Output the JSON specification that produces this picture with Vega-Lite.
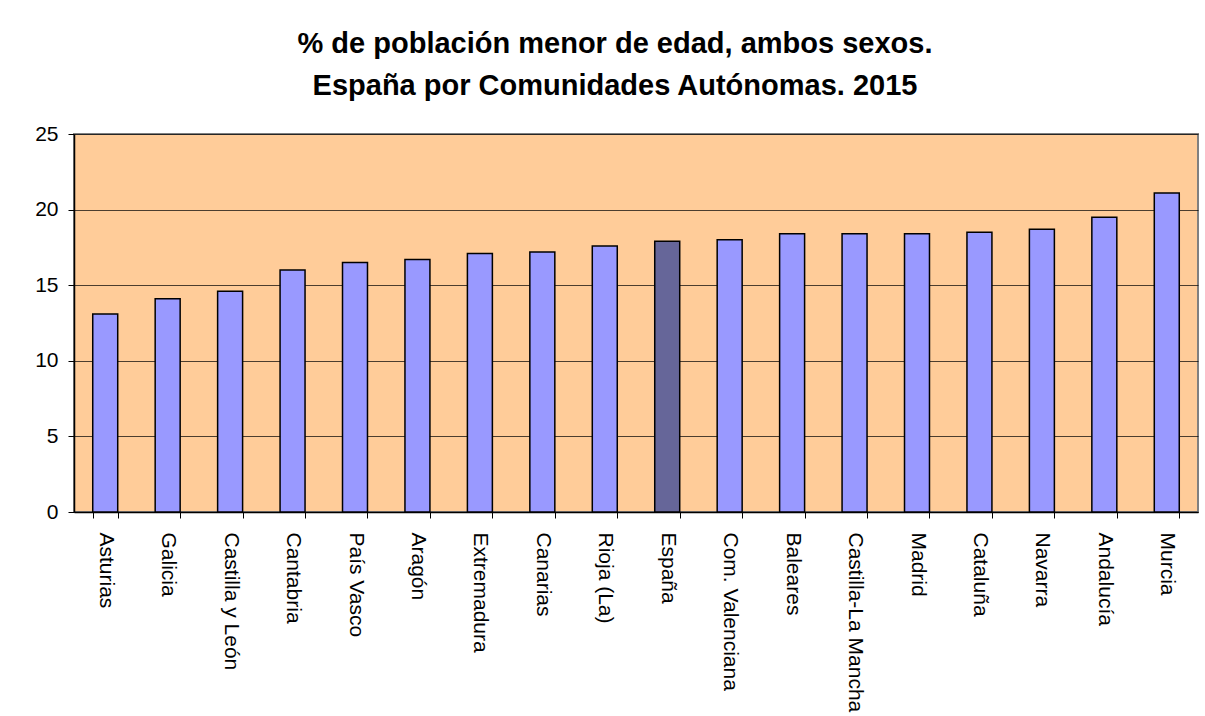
{
  "$schema": "https://vega.github.io/schema/vega-lite/v6.json",
  "width": 1124,
  "height": 378,
  "autosize": {"type": "none"},
  "padding": {"left": 74, "top": 134, "right": 7, "bottom": 204},
  "background": "#FFFFFF",
  "title": {
    "text": ["% de población menor de edad, ambos sexos.", "España por Comunidades Autónomas. 2015"],
    "font": "Liberation Sans",
    "fontSize": 29,
    "fontWeight": "bold",
    "color": "#000000",
    "anchor": "middle",
    "dx": -21,
    "lineHeight": 42,
    "offset": 22
  },
  "data": {
    "values": [
      {"region": "Asturias", "valor": 13.1, "tipo": "Comunidad"},
      {"region": "Galicia", "valor": 14.1, "tipo": "Comunidad"},
      {"region": "Castilla y León", "valor": 14.6, "tipo": "Comunidad"},
      {"region": "Cantabria", "valor": 16.0, "tipo": "Comunidad"},
      {"region": "País Vasco", "valor": 16.5, "tipo": "Comunidad"},
      {"region": "Aragón", "valor": 16.7, "tipo": "Comunidad"},
      {"region": "Extremadura", "valor": 17.1, "tipo": "Comunidad"},
      {"region": "Canarias", "valor": 17.2, "tipo": "Comunidad"},
      {"region": "Rioja (La)", "valor": 17.6, "tipo": "Comunidad"},
      {"region": "España", "valor": 17.9, "tipo": "España"},
      {"region": "Com. Valenciana", "valor": 18.0, "tipo": "Comunidad"},
      {"region": "Baleares", "valor": 18.4, "tipo": "Comunidad"},
      {"region": "Castilla-La Mancha", "valor": 18.4, "tipo": "Comunidad"},
      {"region": "Madrid", "valor": 18.4, "tipo": "Comunidad"},
      {"region": "Cataluña", "valor": 18.5, "tipo": "Comunidad"},
      {"region": "Navarra", "valor": 18.7, "tipo": "Comunidad"},
      {"region": "Andalucía", "valor": 19.5, "tipo": "Comunidad"},
      {"region": "Murcia", "valor": 21.1, "tipo": "Comunidad"}
    ]
  },
  "mark": {"type": "bar", "stroke": "#000000", "strokeWidth": 1.5},
  "encoding": {
    "x": {
      "field": "region",
      "type": "nominal",
      "sort": null,
      "scale": {"paddingInner": 0.6, "paddingOuter": 0.3},
      "axis": {
        "title": null,
        "labelAngle": 90,
        "labelAlign": "left",
        "labelBaseline": "middle",
        "labelFont": "Liberation Sans",
        "labelFontSize": 21,
        "labelColor": "#000000",
        "labelPadding": 14,
        "labelOverlap": false,
        "labelLimit": 0,
        "tickBand": "extent",
        "tickSize": 6,
        "tickColor": "#000000",
        "domainColor": "#000000",
        "domainWidth": 1.5
      }
    },
    "y": {
      "field": "valor",
      "type": "quantitative",
      "scale": {"domain": [0, 25]},
      "axis": {
        "title": null,
        "values": [0, 5, 10, 15, 20, 25],
        "labelFont": "Liberation Sans",
        "labelFontSize": 21,
        "labelColor": "#000000",
        "labelPadding": 10,
        "tickSize": 6,
        "tickColor": "#000000",
        "domainColor": "#000000",
        "domainWidth": 1.5,
        "grid": true,
        "gridColor": "#000000",
        "gridOpacity": 0.7,
        "gridWidth": 1
      }
    },
    "color": {
      "field": "tipo",
      "type": "nominal",
      "scale": {"domain": ["Comunidad", "España"], "range": ["#9999FF", "#666699"]},
      "legend": null
    }
  },
  "config": {
    "view": {"fill": "#FFCC99", "stroke": "#808080", "strokeWidth": 2}
  }
}
